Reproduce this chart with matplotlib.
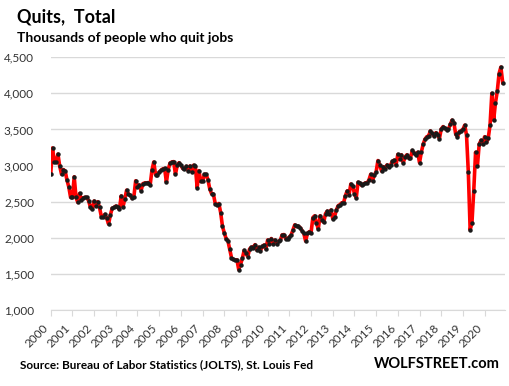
import numpy as np
import matplotlib.pyplot as plt
from matplotlib.transforms import ScaledTranslation
from matplotlib.ticker import FuncFormatter

# monthly quits, thousands, Dec 2000 .. Oct 2021
q2000 = [2880]
q2001 = [3245, 3050, 3050, 3160, 2990, 2880, 2945, 2925, 2800, 2705, 2560, 2560]
q2002 = [2845, 2560, 2490, 2615, 2520, 2555, 2560, 2560, 2510, 2420, 2395, 2510]
q2003 = [2440, 2500, 2420, 2295, 2295, 2325, 2270, 2190, 2315, 2410, 2420, 2440]
q2004 = [2420, 2395, 2580, 2430, 2540, 2660, 2605, 2590, 2545, 2570, 2790, 2705]
q2005 = [2730, 2655, 2750, 2760, 2760, 2765, 2730, 2935, 3050, 2875, 2865, 2910]
q2006 = [2935, 2955, 2960, 2770, 2945, 3035, 3050, 3055, 2880, 3005, 3040, 3005]
q2007 = [2960, 2950, 2990, 2930, 2995, 2915, 3005, 2990, 2695, 2930, 2780, 2780]
q2008 = [2880, 2880, 2800, 2675, 2610, 2605, 2475, 2460, 2475, 2350, 2160, 2070]
q2009 = [1990, 1960, 1840, 1725, 1700, 1695, 1695, 1560, 1630, 1715, 1825, 1785]
q2010 = [1740, 1845, 1870, 1865, 1905, 1830, 1870, 1820, 1880, 1900, 1845, 1970]
q2011 = [1910, 1990, 1920, 1970, 1920, 1950, 1965, 2040, 2045, 1985, 1985, 2010]
q2012 = [2040, 2110, 2180, 2160, 2160, 2140, 2100, 2060, 1955, 2060, 2085, 2070]
q2013 = [2280, 2305, 2200, 2125, 2305, 2245, 2215, 2335, 2370, 2325, 2385, 2265]
q2014 = [2295, 2385, 2445, 2460, 2485, 2485, 2585, 2650, 2595, 2745, 2720, 2610]
q2015 = [2555, 2770, 2760, 2725, 2745, 2760, 2760, 2800, 2880, 2790, 2870, 2915]
q2016 = [3070, 3005, 2925, 2985, 2950, 3010, 2985, 3010, 3060, 3075, 3005, 3155]
q2017 = [3085, 3150, 3040, 3120, 3150, 3105, 3105, 3210, 3175, 3150, 3185, 3040]
q2018 = [3185, 3295, 3365, 3400, 3410, 3480, 3445, 3410, 3455, 3430, 3375, 3505]
q2019 = [3540, 3515, 3495, 3505, 3570, 3630, 3595, 3435, 3400, 3470, 3485, 3500]
q2020 = [3560, 3420, 2905, 2107, 2210, 2655, 3185, 2990, 3295, 3350, 3295, 3400]
q2021 = [3320, 3380, 3560, 4000, 3630, 3870, 4030, 4275, 4365, 4150]

quits = (q2000 + q2001 + q2002 + q2003 + q2004 + q2005 + q2006 + q2007 + q2008
         + q2009 + q2010 + q2011 + q2012 + q2013 + q2014 + q2015 + q2016
         + q2017 + q2018 + q2019 + q2020 + q2021)
years = [str(y) for y in range(2000, 2021)]
yticks = [1000, 1500, 2000, 2500, 3000, 3500, 4000, 4500]

plt.rcParams['font.family'] = ['Lato', 'DejaVu Sans']

fig = plt.figure(figsize=(5.09, 3.86), dpi=100)
ax = fig.add_axes([50.7/509, 1-310/386, 453.8/509, (310-57.3)/386])

x = np.arange(len(quits))
ax.plot(x, quits, color='#ff0000', lw=2.6, zorder=3)
ax.plot(x, quits, ls='none', marker='o', ms=2.2, color='#1a1a1a', zorder=4)

ax.set_xlim(0, len(quits))
ax.set_ylim(1000, 4500)
ax.set_yticks(yticks)
ax.yaxis.set_major_formatter(FuncFormatter(lambda v, p: f'{int(v):,}'))
ax.grid(axis='y', color='#d9d9d9', lw=1)
ax.set_axisbelow(True)

ax.set_xticks(np.arange(0, 12*len(years), 12))
ax.set_xticklabels(years, rotation=45, ha='right')
for lab in ax.get_xticklabels():
    lab.set_transform(lab.get_transform() + ScaledTranslation(0.04, 0, fig.dpi_scale_trans))

for s in ['top', 'right', 'left']:
    ax.spines[s].set_visible(False)
ax.spines['bottom'].set_color('#d9d9d9')
ax.tick_params(axis='y', length=0, pad=12, labelsize=8.5, labelcolor='#333333')
ax.tick_params(axis='x', length=4, color='#d9d9d9', pad=5, labelsize=8.5, labelcolor='#333333')

fig.text(17/509, 1-22/386, 'Quits,  Total', fontsize=13, fontweight='bold', va='baseline')
fig.text(17/509, 1-42/386, 'Thousands of people who quit jobs', fontsize=10, fontweight='bold', va='baseline')
fig.text(20/509, 1-368/386, 'Source: Bureau of Labor Statistics (JOLTS), St. Louis Fed', fontsize=8.5, fontweight='bold', va='baseline')
fig.text(500/509, 1-368/386, 'WOLFSTREET.com', fontsize=10.5, fontweight='bold', va='baseline', ha='right')

fig.savefig('out.png', dpi=100)
